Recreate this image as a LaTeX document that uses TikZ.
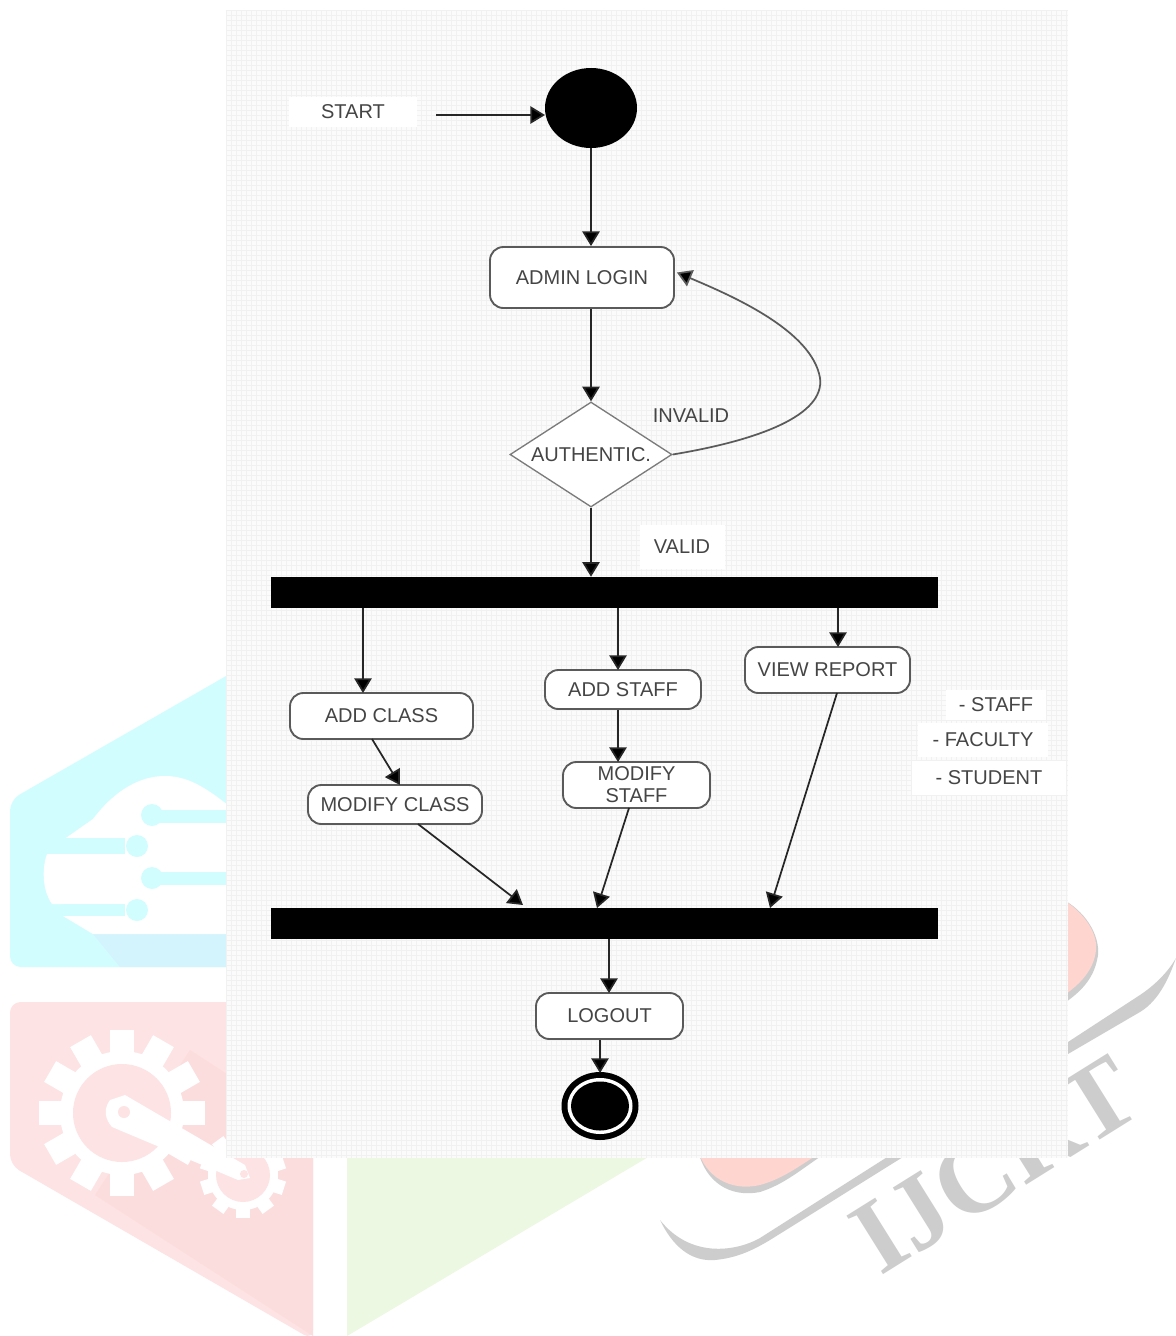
\documentclass[tikz,border=0pt]{standalone}
\usepackage{fontspec}
\setmainfont{Liberation Sans}
\newfontfamily\wmfont{Liberation Serif}
\usetikzlibrary{shapes.geometric,arrows.meta,calc}
\definecolor{wcyan}{HTML}{D2FDFF}
\definecolor{wcyand}{HTML}{D3F4FD}
\definecolor{wred}{HTML}{FDE3E3}
\definecolor{wredd}{HTML}{FCDDDD}
\definecolor{wgreen}{HTML}{EDF8E2}
\definecolor{wsalmon}{HTML}{FED5CF}
\definecolor{wgray}{HTML}{CDCDCD}
\definecolor{ink}{HTML}{454545}
\definecolor{edge}{HTML}{5A5A5A}
\definecolor{panel}{HTML}{FBFBFB}
\definecolor{gridc}{HTML}{F1F1F1}
\tikzset{
  lbl/.style={font=\fontsize{15}{16.5}\selectfont,text=ink,inner sep=0pt,align=center},
  act/.style={lbl,draw=edge,fill=white,line width=1.4pt,rounded corners=10pt},
  dec/.style={lbl,draw=edge!80,fill=white,line width=1pt,diamond,aspect=1.54},
  barnode/.style={fill=black,draw=none,minimum width=667*0.75pt,minimum height=31*0.75pt,inner sep=0pt},
  blob/.style={ellipse,fill=black,draw=none,inner sep=0pt},
  whitebox/.style={lbl,fill=white},
  arr/.style={draw=black!85,line width=1.3pt,-{Triangle[length=11pt,width=13pt,fill=black]}},
}
\begin{document}
\begin{tikzpicture}[x=0.75pt,y=-0.75pt]
\useasboundingbox (0,0) rectangle (1176,1336);
\fill[white] (0,0) rectangle (1176,1336);
% watermark: cyan panel
\fill[wcyan,rounded corners=8pt] (10,800) -- (240,668) -- (240,967) -- (10,967) -- cycle;
\fill[wcyand] (120,967) -- (93,934) -- (240,934) -- (240,967) -- cycle;
\fill[white] (47,854) -- (63,854) -- (63,840) -- (93,819) .. controls (115,790) and (140,776) .. (165,776)
  .. controls (190,776) and (210,790) .. (240,815) -- (240,934) -- (93,934) -- (63,916) -- (63,904) -- (52,904)
  .. controls (42,890) and (42,868) .. (47,854) -- cycle;
\fill[wcyan] (150,810) rectangle (240,823);
\fill[wcyan] (153,872) rectangle (240,885);
\fill[wcyan] (63,838) -- (125,838) -- (125,854) -- (63,854) -- cycle;
\fill[wcyan] (63,904) -- (125,904) -- (125,916) -- (63,916) -- cycle;
\fill[wcyan] (152,815) circle (11);
\fill[wcyan] (137,846) circle (11);
\fill[wcyan] (152,878) circle (11);
\fill[wcyan] (137,910) circle (11);
% watermark: red panel
\fill[wred,rounded corners=8pt] (10,1002) -- (313,1002) -- (313,1340) -- (10,1165) -- cycle;
\fill[wredd] (190,1050) -- (313,1130) -- (313,1336) -- (95,1195) -- cycle;
\begin{scope}[white]
  \fill (122,1113) circle (62);
  \foreach \a in {0,30,...,330} {\fill[rotate around={\a:(122,1113)}] (110,1030) rectangle (134,1060);}
  \fill (243,1175) circle (35);
  \foreach \a in {0,36,...,324} {\fill[rotate around={\a:(243,1175)}] (236,1132) rectangle (250,1150);}
\end{scope}
\fill[wred] (122,1113) circle (49);
\fill[wred] (243,1175) circle (27);
\fill[white] (110,1100) -- (125,1095) -- (245,1165) -- (250,1178) -- (238,1180) -- (112,1127) .. controls (104,1118) and (104,1108) .. (110,1100) -- cycle;
\fill[wred] (124,1112) ellipse (6 and 6);
\fill[wred] (244,1174) ellipse (4 and 4);
% watermark: green panel
\fill[wgreen] (347,1150) -- (660,1150) -- (347,1336) -- cycle;
% watermark: salmon mark, swoosh and letters
\fill[wgray] (1060,898) .. controls (1085,910) and (1100,935) .. (1098,955) .. controls (1095,975) and (1085,990) .. (1060,1006) -- cycle;
\fill[wsalmon] (1060,898) .. controls (1082,910) and (1098,932) .. (1096,950) .. controls (1094,970) and (1080,985) .. (1060,998) -- cycle;
\fill[wgray] (698,1150) .. controls (705,1182) and (730,1198) .. (760,1192) .. controls (785,1184) and (800,1170) .. (830,1150) -- cycle;
\fill[wsalmon] (698,1150) .. controls (705,1176) and (730,1192) .. (760,1185) .. controls (785,1178) and (800,1165) .. (825,1150) -- cycle;
\fill[wgray] (660,1220) .. controls (672,1245) and (690,1262) .. (715,1260) .. controls (735,1258) and (750,1252) .. (770,1240)
  -- (1068,1054) -- (1140,1012) .. controls (1160,1000) and (1170,975) .. (1176,958)
  .. controls (1168,972) and (1155,985) .. (1140,995) -- (1068,1042) -- (760,1238)
  .. controls (735,1252) and (690,1258) .. (660,1220) -- cycle;
\node[rotate=32,text=wgray,inner sep=0pt,font=\wmfont\bfseries\fontsize{79}{79}\selectfont] (wm) at (995,1165) {IJCRT};
% grid panel
\fill[panel] (226,10) rectangle (1068,1158);
\begin{scope}
  \clip (226,10) rectangle (1068,1158);
  \foreach \gx in {226,231,...,1068} {\draw[gridc,line width=.3pt] (\gx,10) -- (\gx,1158);}
  \foreach \gy in {10,15,...,1158} {\draw[gridc,line width=.3pt] (226,\gy) -- (1068,\gy);}
\end{scope}
% nodes
\node[blob,minimum width=92*0.75pt,minimum height=80*0.75pt] (start) at (591,108) {};
\node[whitebox,minimum width=128*0.75pt,minimum height=30*0.75pt] (startlbl) at (353,112) {START};
\coordinate (startfrom) at (436,115);
\coordinate (starttip) at (545,115);
\node[act,minimum width=184*0.75pt,minimum height=61*0.75pt] (login) at (582,277.5) {ADMIN LOGIN};
\node[dec,minimum width=162*0.75pt,minimum height=105*0.75pt] (auth) at (591,454.5) {AUTHENTIC.};
\node[lbl] (invalid) at (691,416) {INVALID};
\node[whitebox,minimum width=85*0.75pt,minimum height=44*0.75pt] (valid) at (682,547) {VALID};
\node[barnode] (bar1) at (604.5,592.5) {};
\node[act,minimum width=183*0.75pt,minimum height=46*0.75pt] (addclass) at (381.5,716) {ADD CLASS};
\node[act,minimum width=174*0.75pt,minimum height=39*0.75pt] (modclass) at (395,804.5) {MODIFY CLASS};
\node[act,minimum width=156*0.75pt,minimum height=39*0.75pt] (addstaff) at (623,689.5) {ADD STAFF};
\node[act,minimum width=147*0.75pt,minimum height=46*0.75pt] (modstaff) at (636.5,785) {MODIFY\\STAFF};
\node[act,minimum width=165*0.75pt,minimum height=46*0.75pt] (view) at (827.5,670) {VIEW REPORT};
\node[whitebox,minimum width=100*0.75pt,minimum height=30*0.75pt] (lstaff) at (996,705) {- STAFF};
\node[whitebox,minimum width=130*0.75pt,minimum height=34*0.75pt] (lfac) at (983,740) {- FACULTY};
\node[whitebox,minimum width=154*0.75pt,minimum height=34*0.75pt] (lstu) at (989,778) {- STUDENT};
\node[barnode] (bar2) at (604.5,923.5) {};
\node[act,minimum width=147*0.75pt,minimum height=46*0.75pt] (logout) at (609.5,1016) {LOGOUT};
\node[blob,minimum width=77*0.75pt,minimum height=68*0.75pt] (finish) at (600,1106) {};
\node[ellipse,fill=white,inner sep=0pt,minimum width=65*0.75pt,minimum height=56*0.75pt] (finishw) at (finish) {};
\node[blob,minimum width=58*0.75pt,minimum height=49*0.75pt] (finishb) at (finish) {};
% anchor points for offset connectors
\coordinate (a1) at (363,693);
\coordinate (a2) at (618,670);
\coordinate (a3) at (838,647);
\coordinate (a4) at (618,762);
\coordinate (b1) at (372,739);
\coordinate (b2) at (400,785);
\coordinate (c1) at (418,824);
\coordinate (c2) at (523,905);
\coordinate (d1) at (629,808);
\coordinate (d2) at (597,908);
\coordinate (e1) at (837,693);
\coordinate (e2) at (770,908);
\coordinate (f1) at (609,993);
\coordinate (g1) at (600,1073);
% connectors
\draw[arr] (startfrom) -- (starttip);
\draw[arr] (start.south) -- (start.south |- login.north);
\draw[arr] (auth.north |- login.south) -- (auth.north);
\draw[arr] (auth.south) -- (auth.south |- bar1.north);
\draw[arr] (a1 |- bar1.south) -- (a1);
\draw[arr] (a2 |- bar1.south) -- (a2);
\draw[arr] (a3 |- bar1.south) -- (a3);
\draw[arr] (b1) -- (b2);
\draw[arr] (a4 |- addstaff.south) -- (a4);
\draw[arr] (c1) -- (c2);
\draw[arr] (d1) -- (d2);
\draw[arr] (e1) -- (e2);
\draw[arr] (f1 |- bar2.south) -- (f1);
\draw[arr] (g1 |- logout.south) -- (g1);
\draw[arr,draw=edge] (auth.east) .. controls (760,440) and (825,415) .. (820,378)
  .. controls (812,330) and (730,295) .. ($(login.east)+(2,-5)$);
\end{tikzpicture}
\end{document}
